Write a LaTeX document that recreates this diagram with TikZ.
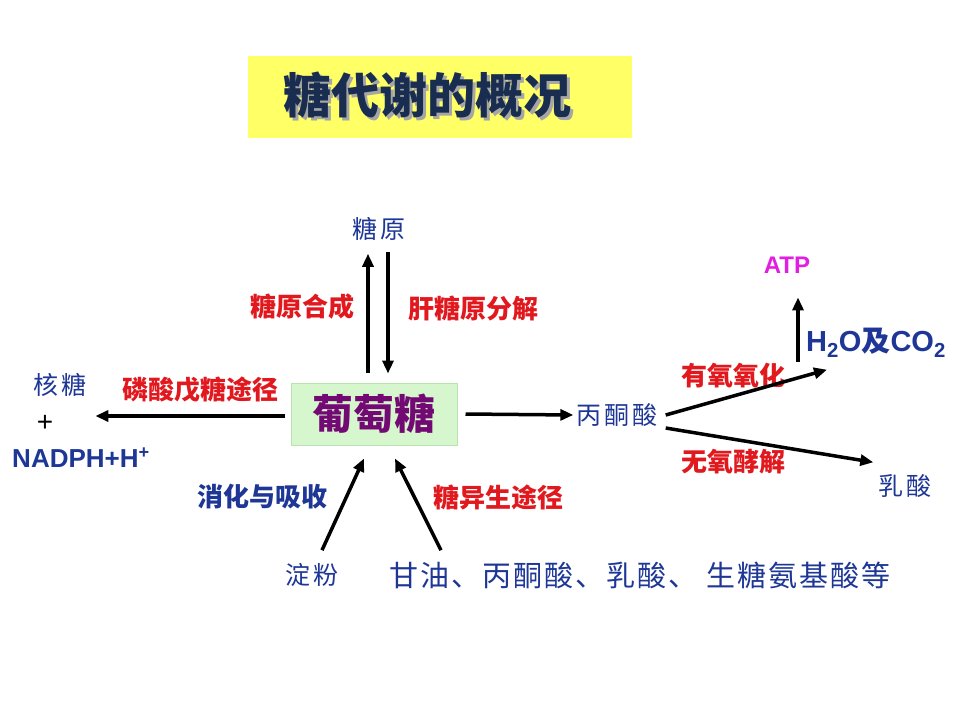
\documentclass[tikz,border=0pt]{standalone}
\usepackage{fontspec}
\setmainfont{Liberation Sans}
\newfontfamily\cjk{Noto Sans CJK SC}
\newfontfamily\cjkw[LetterSpace=12]{Noto Sans CJK SC}
\newfontfamily\cjkm[LetterSpace=7]{Noto Sans CJK SC}
\usetikzlibrary{arrows.meta,calc}
\definecolor{lblue}{RGB}{30,55,150}
\definecolor{lred}{RGB}{225,25,30}
\definecolor{gpurple}{RGB}{115,10,115}
\definecolor{gfill}{RGB}{214,246,206}
\definecolor{gedge}{RGB}{185,228,175}
\definecolor{ytitle}{RGB}{255,255,102}
\definecolor{navy}{RGB}{25,45,80}
\definecolor{atpc}{RGB}{225,30,225}
\newcommand{\titletext}{糖代谢的概况}
\begin{document}
\begin{tikzpicture}[x=1pt,y=-1pt,
  bluelbl/.style={text=lblue, font=\cjkw\fontsize{25}{30}\selectfont, inner sep=0pt},
  bluebold/.style={text=lblue, font=\cjk\bfseries\fontsize{26}{30}\selectfont, inner sep=0pt},
  redlbl/.style={text=lred, font=\cjk\bfseries\fontsize{26}{30}\selectfont, inner sep=0pt},
  chem/.style={text=lblue, font=\bfseries\fontsize{26}{30}\selectfont, inner sep=0pt},
  arr/.style={line width=3.5pt, -{Triangle[length=13pt,width=11pt]}}]
\useasboundingbox (0,0) rectangle (960,720);
\fill[white] (0,0) rectangle (960,720);
% title
\node[fill=ytitle, minimum width=384pt, minimum height=82pt, inner sep=0pt] (titlebox) at (440,97) {};
\node[text=navy, font=\cjk\bfseries\fontsize{48}{54}\selectfont, inner sep=0pt] (title) at (427,97)
  {\makebox[0pt][l]{\hspace{3pt}\raisebox{-3pt}{\textcolor{gray!70}{\titletext}}}\titletext};
% glucose
\node[fill=gfill, draw=gedge, line width=1pt, minimum width=166pt, minimum height=62pt, inner sep=0pt,
  text=gpurple, font=\cjk\bfseries\fontsize{41}{46}\selectfont] (glu) at (374,414) {葡萄糖};
% glycogen
\node[bluelbl] (gly) at (379,229) {糖原};
\node[redlbl] (glysyn) at (302,307) {糖原合成};
\node[redlbl] (glydec) at (473,309) {肝糖原分解};
\draw[arr] ($(glu.north)+(-6,-10)$) -- ($(gly.south)+(-11,13)$);
\draw[arr] ($(gly.south)+(9,11)$) -- ($(glu.north)+(14,-9)$);
% pyruvate
\node[bluelbl] (pyr) at (617,415) {丙酮酸};
\draw[arr] ($(glu.east)+(8,0)$) -- ($(pyr.west)+(-3,0)$);
\node[chem, font=\bfseries\fontsize{29}{32}\selectfont, anchor=west] (h2o) at (806,343) {H\textsubscript{2}O{\cjk 及}CO\textsubscript{2}};
\node[text=atpc, font=\bfseries\fontsize{24}{28}\selectfont, inner sep=0pt] (atp) at (787,265) {ATP};
\node[bluelbl] (lac) at (905,486) {乳酸};
\node[redlbl] (aer) at (733,376) {有氧氧化};
\node[redlbl] (anaer) at (733,462) {无氧酵解};
\draw[arr] ($(pyr.east)+(8,0)$) -- ($(h2o.south west)+(21,12)$);
\draw[arr] ($(pyr.east)+(8,13)$) -- ($(lac.north west)+(-5,-12)$);
\draw[arr] ($(h2o.west)+(-8,19)$) -- ($(atp.south)+(11,24)$);
% pentose phosphate
\node[redlbl] (ppp) at (200,390) {磷酸戊糖途径};
\node[bluelbl] (ribose) at (60,385) {核糖};
\node[text=black, font=\fontsize{28}{32}\selectfont, inner sep=0pt] (plus) at (45,423) {+};
\node[chem] (nadph) at (81,458) {NADPH+H\textsuperscript{+}};
\draw[arr] ($(glu.west)+(-6,2)$) -- ($(plus.east)+(42,-7)$);
% bottom
\node[bluelbl] (starch) at (312,575) {淀粉};
\node[text=lblue, font=\cjkm\fontsize{29}{33}\selectfont, inner sep=0pt] (others) at (640,575) {甘油、丙酮酸、乳酸、 生糖氨基酸等};
\node[bluebold] (digest) at (262,497) {消化与吸收};
\node[redlbl] (gng) at (498,497) {糖异生途径};
\draw[arr] ($(starch.north)+(10,-13)$) -- ($(glu.south)+(-10,13)$);
\draw[arr] ($(starch.north)+(129,-13)$) -- ($(glu.south)+(21,13)$);
\end{tikzpicture}
\end{document}
